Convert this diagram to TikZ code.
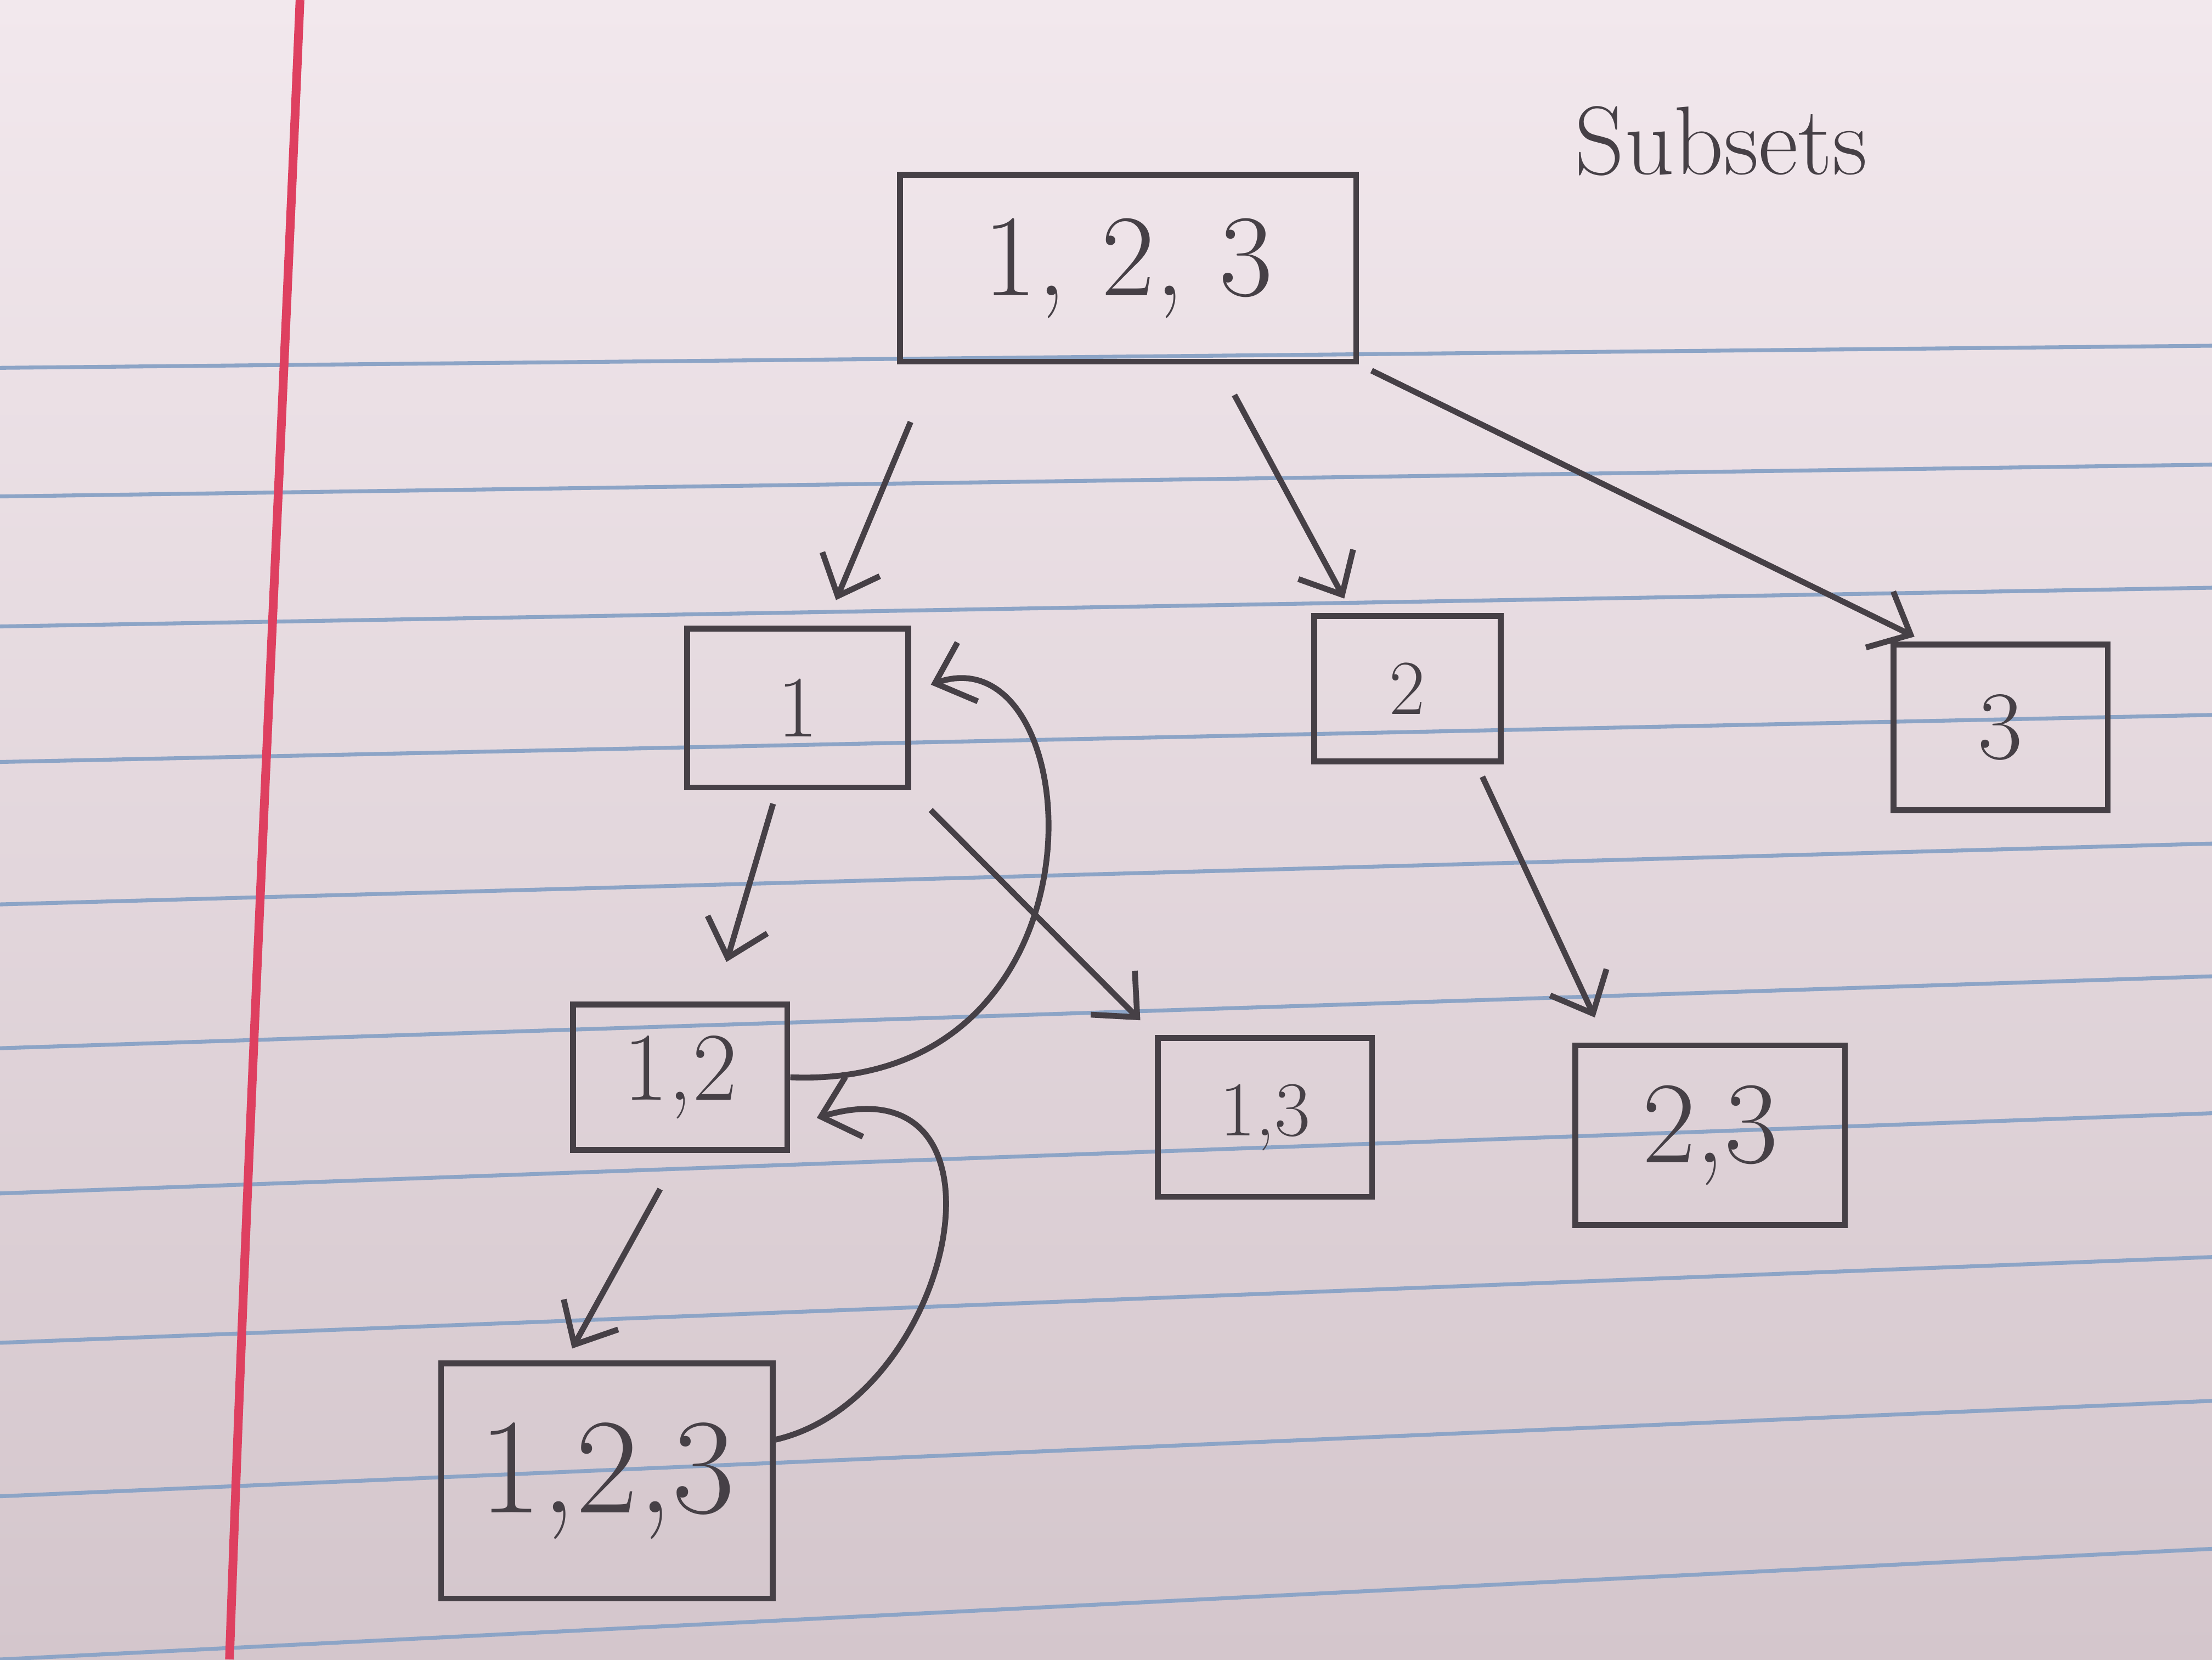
\documentclass[tikz,border=0pt]{standalone}
\usetikzlibrary{arrows.meta}
\definecolor{paperlight}{RGB}{242,232,237}
\definecolor{paperdark}{RGB}{212,198,204}
\definecolor{paperblue}{RGB}{140,164,198}
\definecolor{paperred}{RGB}{222,64,96}
\definecolor{pencil}{RGB}{70,64,70}
\begin{document}
\begin{tikzpicture}[line width=1.2pt, >={Straight Barb[length=2.5mm,width=4.5mm]},
  set node/.style={rectangle,draw=pencil,inner sep=0pt}]
% paper
\useasboundingbox (0,0) rectangle (16,12);
\fill [top color=paperlight, bottom color=paperdark] (0,0) rectangle (16,12);
\foreach \ya/\yb in {9.34/9.50, 8.41/8.64, 7.47/7.75, 6.49/6.83, 5.46/5.90,
  4.42/4.94, 3.37/3.95, 2.29/2.91, 1.18/1.87, 0.00/0.80}
  \draw [paperblue, line width=0.8pt] (0,\ya) -- (16,\yb);
\draw [paperred, line width=1.8pt] (2.17,12) .. controls (2.0,8) and (1.8,4) .. (1.66,0);
% subsets
\begin{scope}[every node/.style={text=pencil}]
\node (title) at (12.45,10.98) {\fontsize{20}{20}\selectfont Subsets};
\node [set node, minimum width=3.3cm, minimum height=1.35cm] (v123) at (8.16,10.06) {\fontsize{24}{24}\selectfont 1, 2, 3};
\node [set node, minimum width=1.6cm, minimum height=1.15cm] (v1) at (5.77,6.88) {\fontsize{18}{18}\selectfont 1};
\node [set node, minimum width=1.35cm, minimum height=1.05cm] (v2) at (10.18,7.02) {\fontsize{16}{16}\selectfont 2};
\node [set node, minimum width=1.55cm, minimum height=1.2cm] (v3) at (14.47,6.74) {\fontsize{20}{20}\selectfont 3};
\node [set node, minimum width=1.55cm, minimum height=1.05cm] (v12) at (4.92,4.21) {\fontsize{20}{20}\selectfont 1,2};
\node [set node, minimum width=1.55cm, minimum height=1.15cm] (v13) at (9.15,3.92) {\fontsize{16}{16}\selectfont 1,3};
\node [set node, minimum width=1.95cm, minimum height=1.3cm] (v23) at (12.37,3.79) {\fontsize{24}{24}\selectfont 2,3};
\node [set node, minimum width=2.4cm, minimum height=1.7cm] (w123) at (4.39,1.29) {\fontsize{28}{28}\selectfont 1,2,3};
\end{scope}
\begin{scope}[pencil]
\draw [->, shorten <=0.45cm, shorten >=0.2cm] ([xshift=-1.4cm]v123.south) -- ([xshift=0.2cm]v1.north);
\draw [->, shorten <=0.25cm, shorten >=0.12cm] ([xshift=0.65cm]v123.south) -- ([xshift=-0.4cm]v2.north);
\draw [->, shorten <=0.1cm, shorten >=0.08cm] (v123.south east) -- ([xshift=-0.55cm]v3.north);
\draw [->, shorten <=0.1cm, shorten >=0.3cm] ([xshift=-0.15cm]v1.south) -- ([xshift=0.25cm]v12.north);
\draw [->, shorten <=0.2cm, shorten >=0.15cm] (v1.south east) -- (v13.north west);
\draw [->, shorten <=0.1cm, shorten >=0.2cm] ([xshift=0.5cm]v2.south) -- ([xshift=-0.75cm]v23.north);
\draw [->, shorten <=0.3cm, shorten >=0.1cm] (v12.south) -- ([xshift=-0.3cm]w123.north);
% back up
\draw [->, shorten >=0.15cm] (v12.east) .. controls +(2.4,-0.1) and +(1.3,0.45) .. ([yshift=0.12cm]v1.east);
\draw [->, shorten >=0.2cm] ([yshift=0.3cm]w123.east) .. controls +(1.3,0.3) and +(1.7,0.5) .. ([yshift=-0.35cm]v12.east);
\end{scope}
\end{tikzpicture}
\end{document}
